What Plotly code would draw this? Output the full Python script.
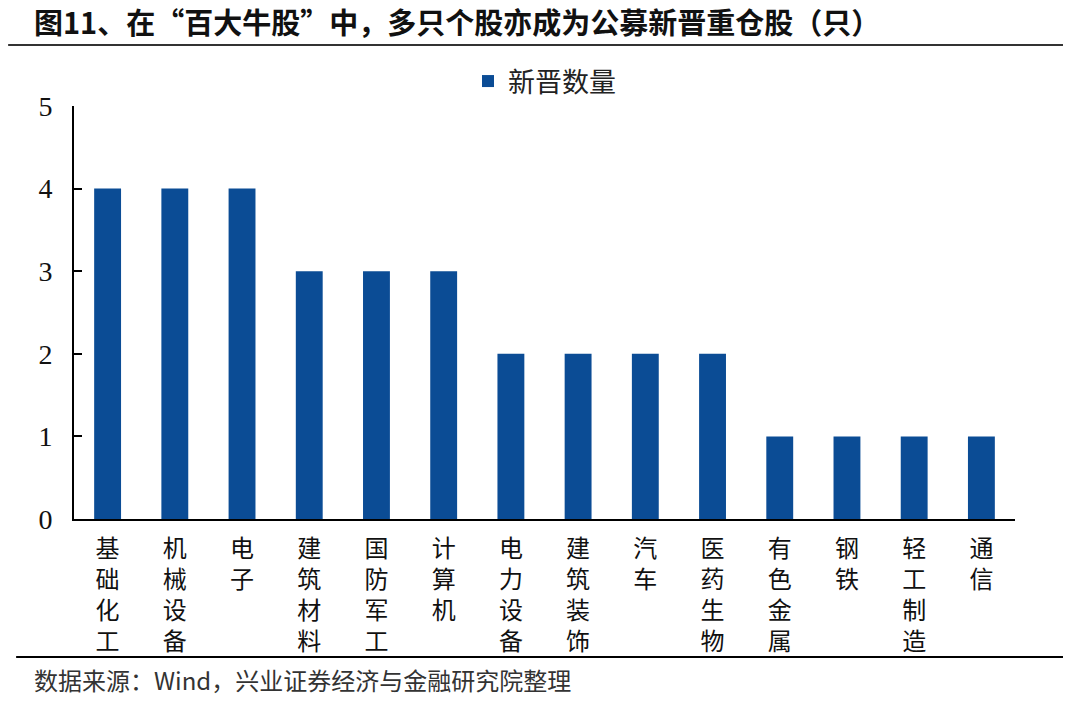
import plotly.graph_objects as go

categories = ["基础化工", "机械设备", "电子", "建筑材料", "国防军工", "计算机", "电力设备",
              "建筑装饰", "汽车", "医药生物", "有色金属", "钢铁", "轻工制造", "通信"]
values = [4, 4, 4, 3, 3, 3, 2, 2, 2, 2, 1, 1, 1, 1]
series_name = "新晋数量"
y_ticks = [0, 1, 2, 3, 4, 5]

title = "图11、在“百大牛股”中，多只个股亦成为公募新晋重仓股（只）"
source = "数据来源：Wind，兴业证券经济与金融研究院整理"

cjk = "Noto Sans CJK SC"
cjk_tight = "Liberation Sans, Noto Sans CJK SC"
vertical_labels = ["<br>".join(list(c)) for c in categories]

fig = go.Figure()
fig.add_trace(go.Bar(
    x=categories, y=values, name=series_name,
    marker=dict(color="#0B4C95", line=dict(width=0)),
))

fig.update_layout(
    width=1080, height=701,
    margin=dict(l=74, r=65, t=106, b=182),
    paper_bgcolor="white", plot_bgcolor="white",
    bargap=0.6,
    showlegend=True,
    legend=dict(orientation="h", x=0.5, xanchor="center", y=1.0, yanchor="bottom",
                font=dict(family=cjk, size=27, color="#222"),
                itemwidth=30, itemsizing="constant"),
    xaxis=dict(
        tickmode="array", tickvals=categories, ticktext=vertical_labels,
        tickfont=dict(family=cjk_tight, size=24, color="#111"),
        showline=True, linecolor="black", linewidth=2,
        ticks="", showgrid=False, tickangle=0, ticklabelstandoff=7,
    ),
    yaxis=dict(
        range=[0, 5], tickvals=y_ticks,
        tickfont=dict(family="Liberation Serif", size=28, color="#111"),
        showline=True, linecolor="black", linewidth=2,
        ticks="inside", ticklen=8, tickwidth=2, tickcolor="black",
        showgrid=False, zeroline=False, ticklabelstandoff=14,
    ),
    annotations=[
        dict(text="<b>" + title + "</b>", xref="paper", yref="paper", x=0, y=1,
             xanchor="left", yanchor="middle", showarrow=False,
             xshift=-42, yshift=85, font=dict(family=cjk, size=29, color="#111")),
        dict(text=source, xref="paper", yref="paper", x=0, y=0,
             xanchor="left", yanchor="middle", showarrow=False,
             xshift=-42, yshift=-160, font=dict(family=cjk, size=24, color="#333")),
    ],
    shapes=[
        dict(type="line", xref="paper", yref="paper", x0=-0.07, x1=1.051,
             y0=1.148, y1=1.148, line=dict(color="#333", width=2)),
        dict(type="line", xref="paper", yref="paper", x0=-0.0615, x1=1.051,
             y0=-0.334, y1=-0.334, line=dict(color="black", width=2)),
    ],
)

fig.write_html("out.html")
